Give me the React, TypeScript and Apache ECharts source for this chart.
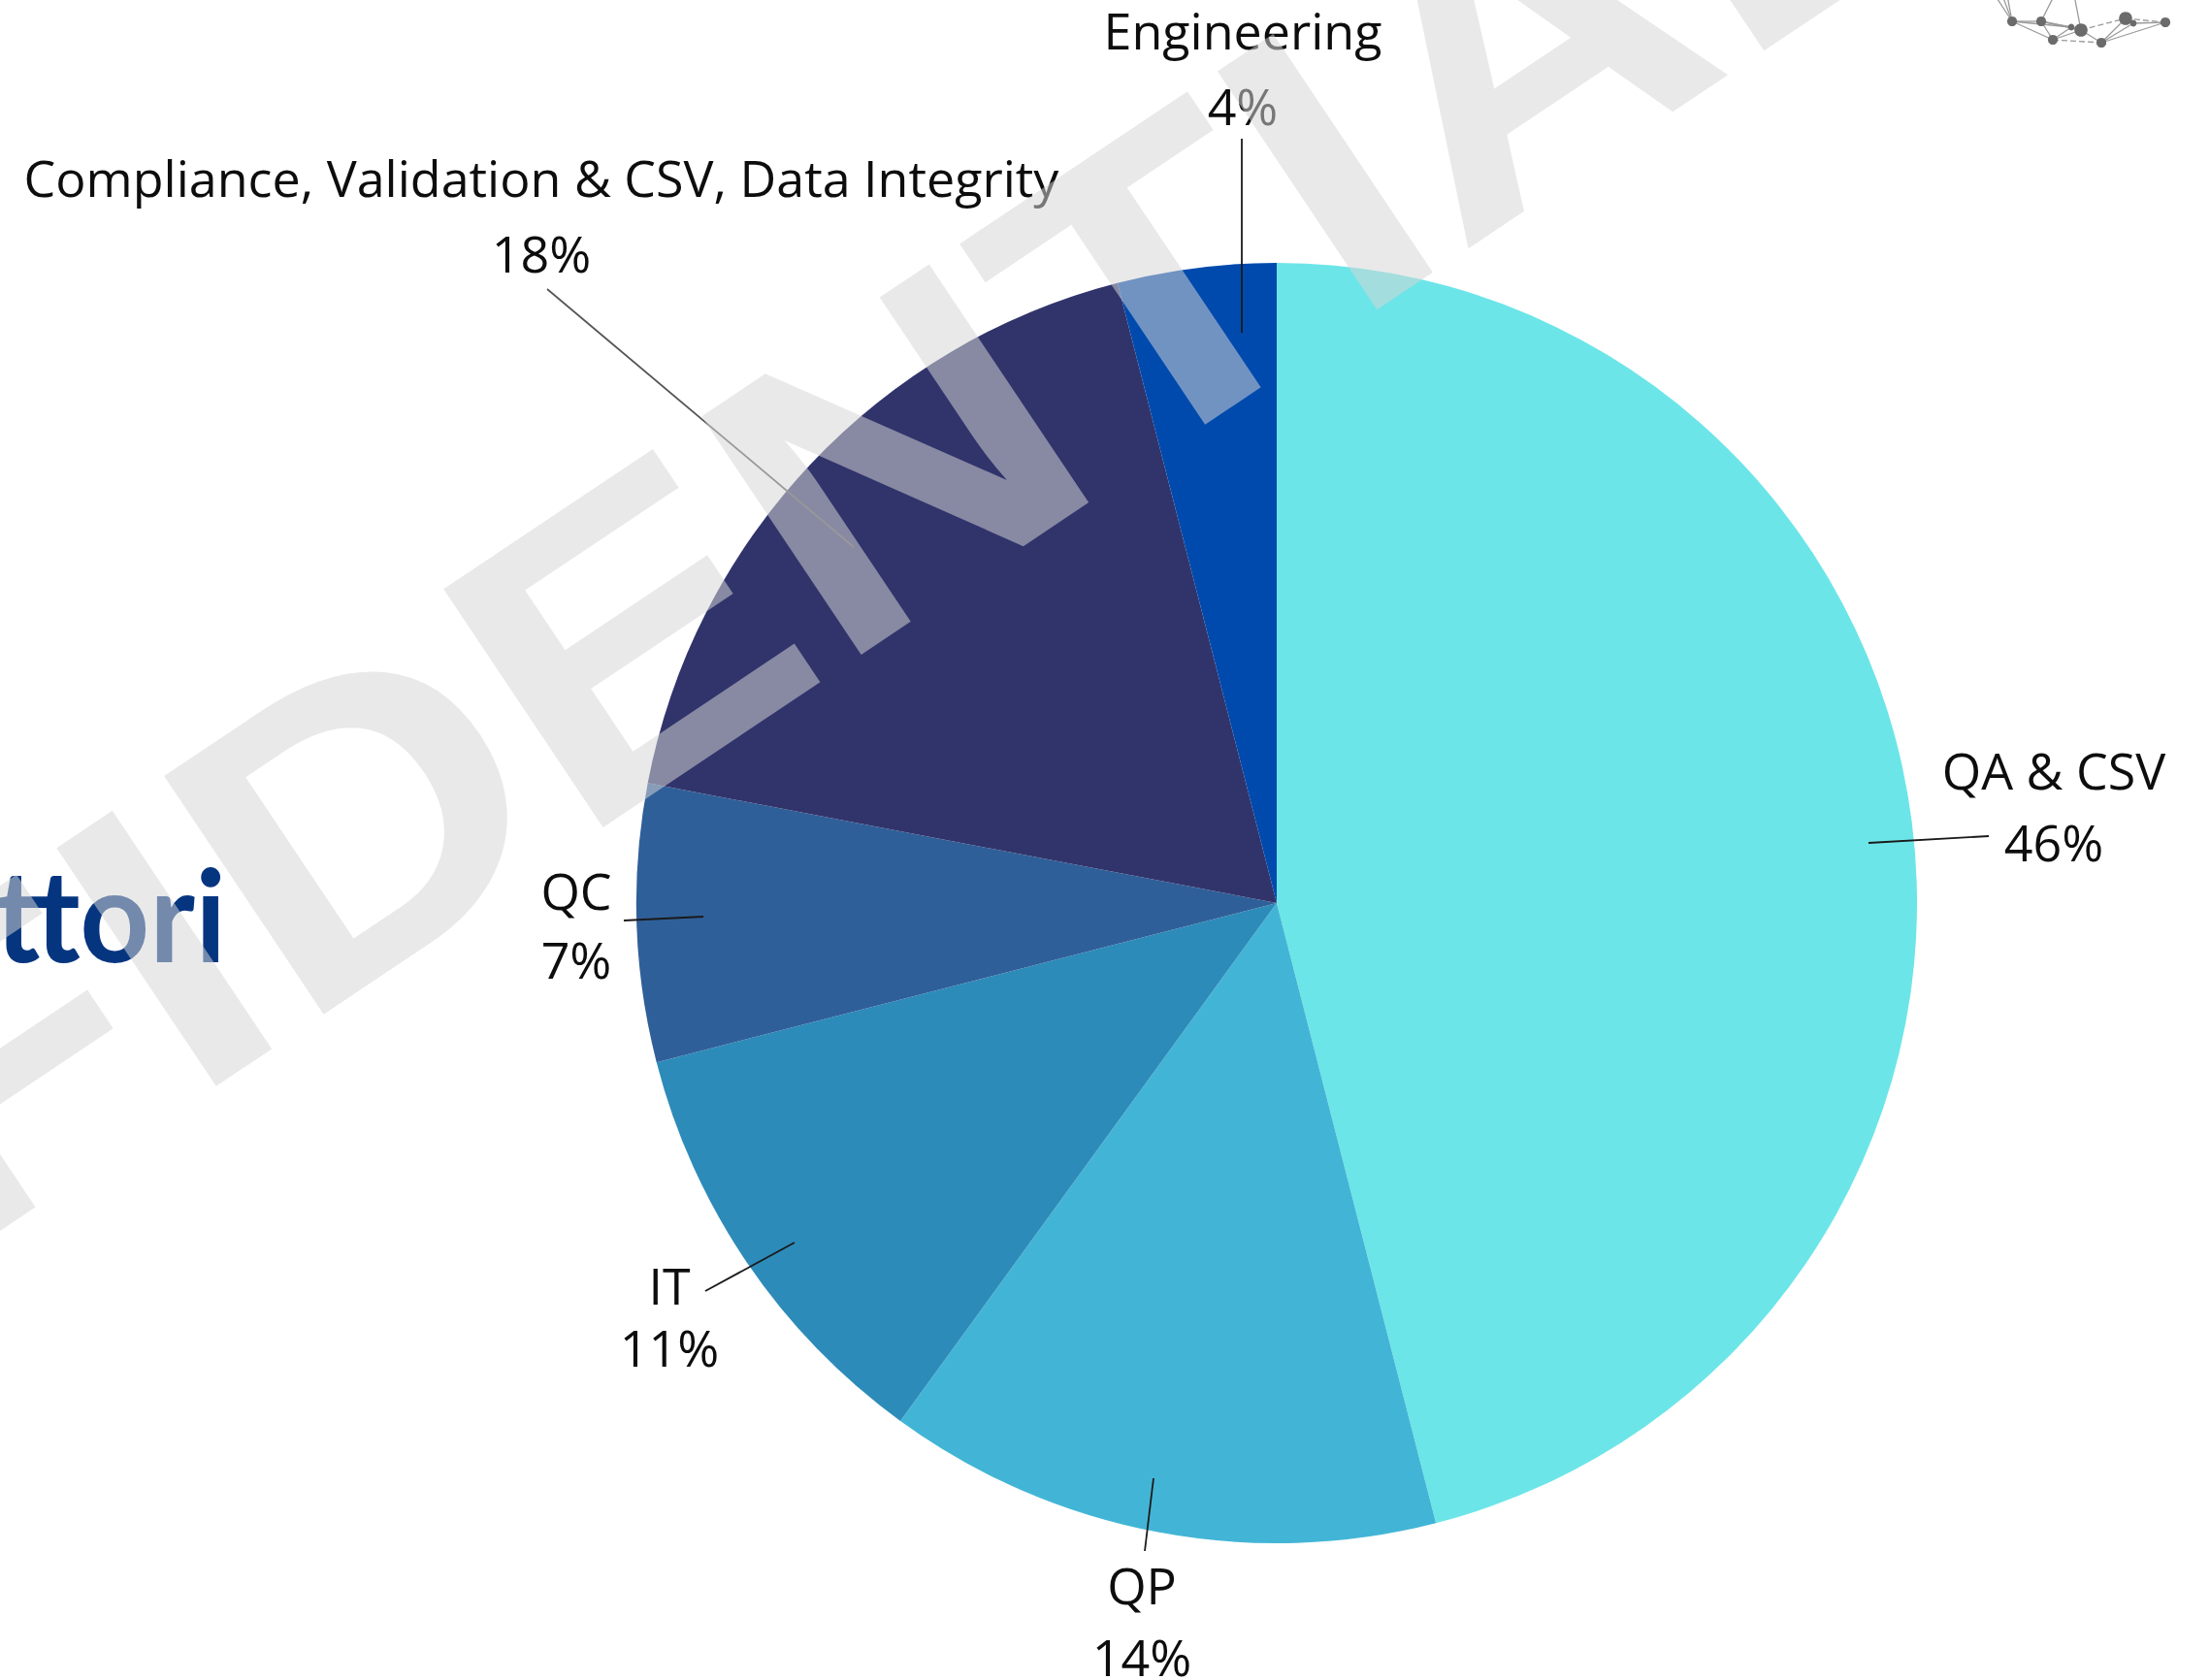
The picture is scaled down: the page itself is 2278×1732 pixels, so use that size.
import React, { useEffect, useRef } from "react";
import * as echarts from "echarts";

// ---- data ----
const categories = [
  "QA & CSV",
  "QP",
  "IT",
  "QC",
  "Compliance, Validation & CSV, Data Integrity",
  "Engineering",
];
const shares = [46, 14, 11, 7, 18, 4];
const sliceColors = ["#6CE5E8", "#42B5D6", "#2D8BB9", "#2F5F99", "#31346B", "#004AAD"];

// ---- label placement (annotation layout, pixels) ----
const labelLayouts = [
  { x: 2117, y: 830, lh: 74, line: [[1926, 869], [2050, 862]], lc: "#1a1a1a" },
  { x: 1177, y: 1670, lh: 74, line: [[1189, 1524], [1180, 1599]], lc: "#1a1a1a" },
  { x: 690, y: 1356, lh: 64, line: [[819, 1281], [727, 1331]], lc: "#1a1a1a" },
  { x: 594, y: 953, lh: 71, line: [[725, 945], [643, 949]], lc: "#1a1a1a" },
  { x: 558, y: 221, lh: 78, line: [[880, 564], [564, 298]], lc: "#555555" },
  { x: 1281, y: 69, lh: 78, line: [[1280, 343], [1280, 143]], lc: "#1a1a1a" },
];

// decorative logo network (top-right)
const logoNodes = [
  [2074, 22, 6], [2104, 22, 6], [2116, 41, 6], [2135, 28, 4], [2145, 31, 8],
  [2166, 44, 6], [2191, 19, 8], [2199, 24, 4], [2232, 23, 6],
];
const logoEdges = [
  [0, 1, 0], [0, 2, 0], [0, 3, 0], [1, 2, 0], [1, 4, 0], [1, 3, 0], [2, 3, 0], [2, 4, 0],
  [2, 5, 1], [3, 4, 0], [4, 5, 0], [4, 6, 1], [5, 6, 0], [5, 7, 0], [5, 8, 0], [6, 7, 0],
  [6, 8, 1], [7, 8, 0],
];
const logoTopLines = [
  [2053, 0, 0], [2062, 0, 0], [2068, 0, 0], [2120, 0, 1], [2137, 0, 4],
];

export default function App() {
  const ref = useRef<HTMLDivElement>(null);
  useEffect(() => {
    if (!ref.current) return;
    const chart = echarts.init(ref.current, null, { renderer: "svg" });

    const theta = (33.8 * Math.PI) / 180;

    const logoGraphics: any[] = [];
    logoEdges.forEach(([a, b, dashed]) => {
      logoGraphics.push({
        type: "line",
        z: 5,
        shape: { x1: logoNodes[a][0], y1: logoNodes[a][1], x2: logoNodes[b][0], y2: logoNodes[b][1] },
        style: { stroke: "#9a9a9a", lineWidth: 1.3, lineDash: dashed ? [6, 3] : null },
      });
    });
    logoTopLines.forEach(([x, y, n]) => {
      logoGraphics.push({
        type: "line",
        z: 5,
        shape: { x1: x, y1: y - 10, x2: logoNodes[n][0], y2: logoNodes[n][1] },
        style: { stroke: "#9a9a9a", lineWidth: 1.3 },
      });
    });
    logoNodes.forEach(([x, y, r]) => {
      logoGraphics.push({
        type: "circle",
        z: 6,
        shape: { cx: x, cy: y, r: r * 0.85 },
        style: { fill: "#6b6b6b" },
      });
    });

    // leader lines (annotations above the slices)
    const leaderLines = labelLayouts.map((L) => ({
      type: "line",
      z: 50,
      silent: true,
      shape: { x1: L.line[0][0], y1: L.line[0][1], x2: L.line[1][0], y2: L.line[1][1] },
      style: { stroke: L.lc, lineWidth: 1.8 },
    }));

    chart.setOption({
      animation: false,
      backgroundColor: "#ffffff",
      graphic: [
        {
          type: "text",
          z: 1,
          x: 233,
          y: 941,
          scaleX: 0.95,
          style: {
            text: "Settori",
            font: 'bold 132px "Lato"',
            fill: "#063580",
            align: "right",
            textAlign: "right",
            verticalAlign: "middle",
            textVerticalAlign: "middle",
          },
        },
        ...logoGraphics,
        ...leaderLines,
        {
          type: "text",
          z: 100,
          silent: true,
          x: 468,
          y: 777,
          rotation: theta,
          scaleY: 0.895,
          style: {
            text: "CONFIDENTIAL",
            font: 'bold 480px "Liberation Sans"',
            fill: "rgba(214,214,214,0.53)",
            align: "center",
            textAlign: "center",
            verticalAlign: "middle",
            textVerticalAlign: "middle",
          },
        },
      ],
      series: [
        {
          type: "pie",
          silent: true,
          center: [1316, 931],
          radius: 660,
          startAngle: 90,
          clockwise: true,
          avoidLabelOverlap: false,
          itemStyle: { borderWidth: 0 },
          data: categories.map((name, i) => ({
            name,
            value: shares[i],
            itemStyle: { color: sliceColors[i] },
            label: { lineHeight: labelLayouts[i].lh },
          })),
          label: {
            show: true,
            position: "outside",
            formatter: (p: any) => `${p.name}\n${p.value}%`,
            fontFamily: "Open Sans",
            fontSize: 52,
            color: "#0d0d0d",
            lineHeight: 74,
          },
          labelLine: { show: false },
          labelLayout: (params: any) => {
            const L = labelLayouts[params.dataIndex];
            return {
              x: L.x,
              y: L.y,
              align: "center",
              verticalAlign: "middle",
            };
          },
        },
      ],
    });

    return () => chart.dispose();
  }, []);

  return (
    <div
      ref={ref}
      style={{ position: "absolute", left: 0, top: 0, width: 2278, height: 1732, background: "#fff" }}
    />
  );
}
